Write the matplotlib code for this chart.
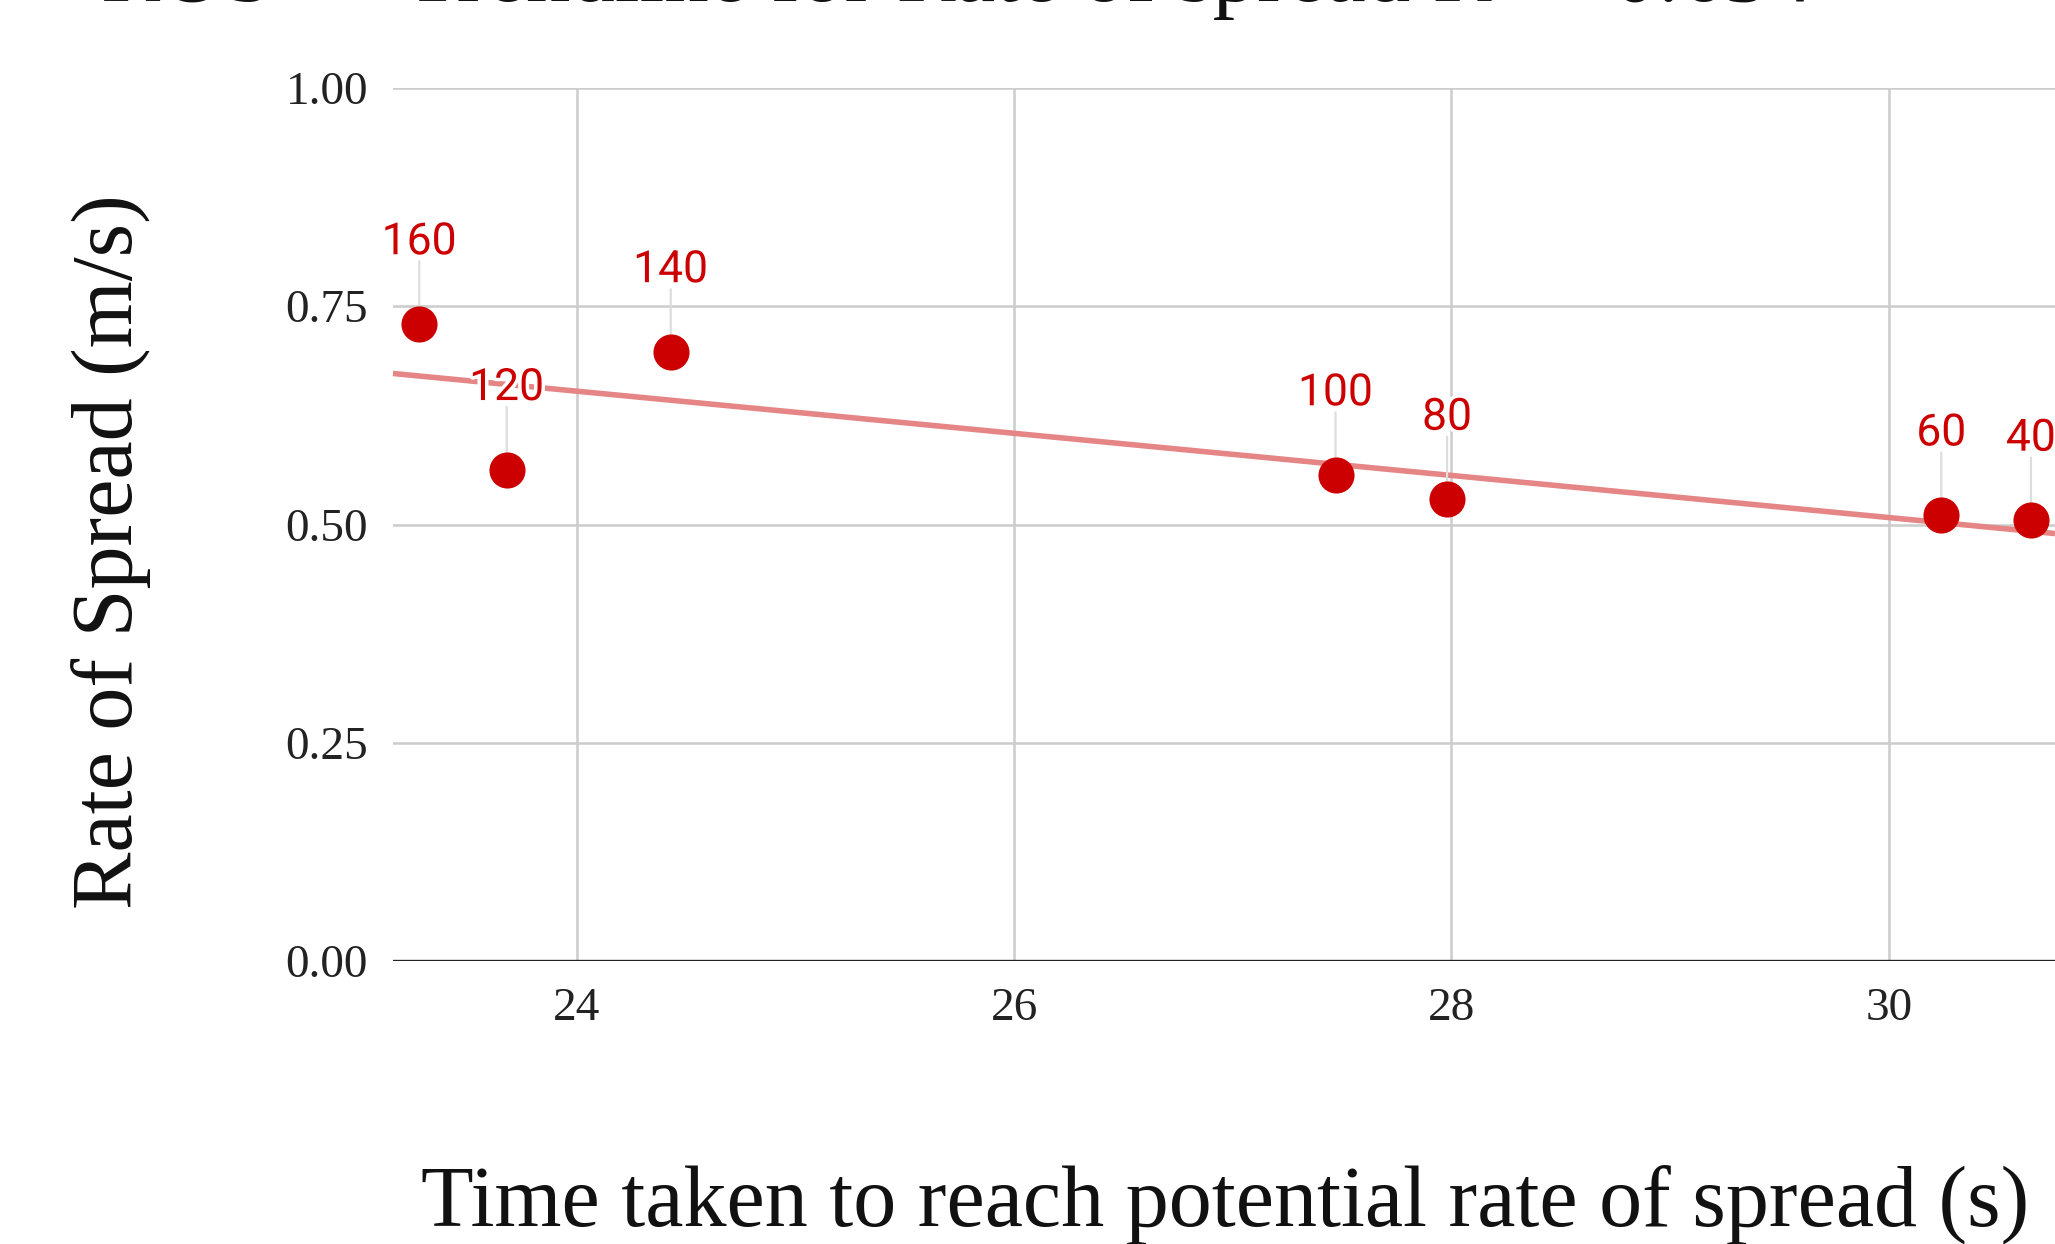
import numpy as np
import matplotlib
matplotlib.use("Agg")
import matplotlib.pyplot as plt
import matplotlib.patheffects as pe

# ---- data ----
time_s = [23.28, 23.68, 24.43, 27.47, 27.98, 30.24, 30.65]
ros = [0.730, 0.563, 0.698, 0.557, 0.529, 0.511, 0.505]
labels = ["160", "120", "140", "100", "80", "60", "40"]
x_ticks = [24, 26, 28, 30]
y_ticks = [0.00, 0.25, 0.50, 0.75, 1.00]
x_range = [23.16, 30.76]

slope, intercept = np.polyfit(time_s, ros, 1)
pred = np.polyval([slope, intercept], time_s)
r2 = 1 - np.sum((np.array(ros) - pred) ** 2) / np.sum((np.array(ros) - np.mean(ros)) ** 2)

W, H = 2055, 1244
fig = plt.figure(figsize=(W / 100, H / 100), dpi=100)
ax = fig.add_axes([393 / W, 1 - 961 / H, 1 - 393 / W, (961 - 88) / H])

serif = ["Liberation Serif", "DejaVu Serif"]
red = "#cc0000"

ax.set_xlim(*x_range)
ax.set_ylim(0, 1)
ax.set_xticks(x_ticks)
ax.set_yticks(y_ticks)
ax.set_xticklabels([str(t) for t in x_ticks], family=serif, fontsize=34, color="#222222")
ax.set_yticklabels([f"{t:.2f}" for t in y_ticks], family=serif, fontsize=34, color="#222222")
ax.tick_params(axis="y", length=0, pad=18)
ax.tick_params(axis="x", length=0, pad=19)
for s in ax.spines.values():
    s.set_visible(False)
ax.grid(True, color="#cccccc", linewidth=1.8)
ax.set_axisbelow(True)
ax.axhline(0, color="#222222", linewidth=2.4, zorder=2)

# trendline
xs = np.array(x_range)
ax.plot(xs, slope * xs + intercept, color="#e58585", linewidth=4.0, zorder=3,
        solid_capstyle="butt", clip_on=False)

# points
ax.plot(time_s, ros, linestyle="none", marker="o", markersize=26,
        color=red, markeredgewidth=0, zorder=5, clip_on=False)

# leader lines and labels
for x, y, lab in zip(time_s, ros, labels):
    ax.annotate("", xy=(x, y), xytext=(0, 45), textcoords="offset points",
                arrowprops=dict(arrowstyle="-", color="#dddddd", lw=1.6,
                                shrinkA=0, shrinkB=13), zorder=4)
    ax.annotate(lab, xy=(x, y), xytext=(0, 50), textcoords="offset points",
                ha="center", va="baseline", family=["Roboto", "DejaVu Sans"],
                fontsize=32, color=red, zorder=6,
                path_effects=[pe.withStroke(linewidth=5, foreground="white")])

# axis titles
fig.text(111 / W, 1 - 552 / H, "Rate of Spread (m/s)", rotation=90,
         ha="center", va="center", family=serif, fontsize=62, color="#111111")
fig.text(1225 / W, 1 - 1205 / H, "Time taken to reach potential rate of spread (s)",
         ha="center", va="center", family=serif, fontsize=62, color="#111111")

# chart title (mostly cut off at top, as in the reference)
fig.text(957 / W, 1 - 1.5 / H, f"ROS \u2014 Trendline for Rate of spread R\u00b2 = {r2:.3f}",
         ha="center", va="baseline", family=serif, fontsize=64, color="#111111")

fig.savefig("out.png", dpi=100, facecolor="white")
